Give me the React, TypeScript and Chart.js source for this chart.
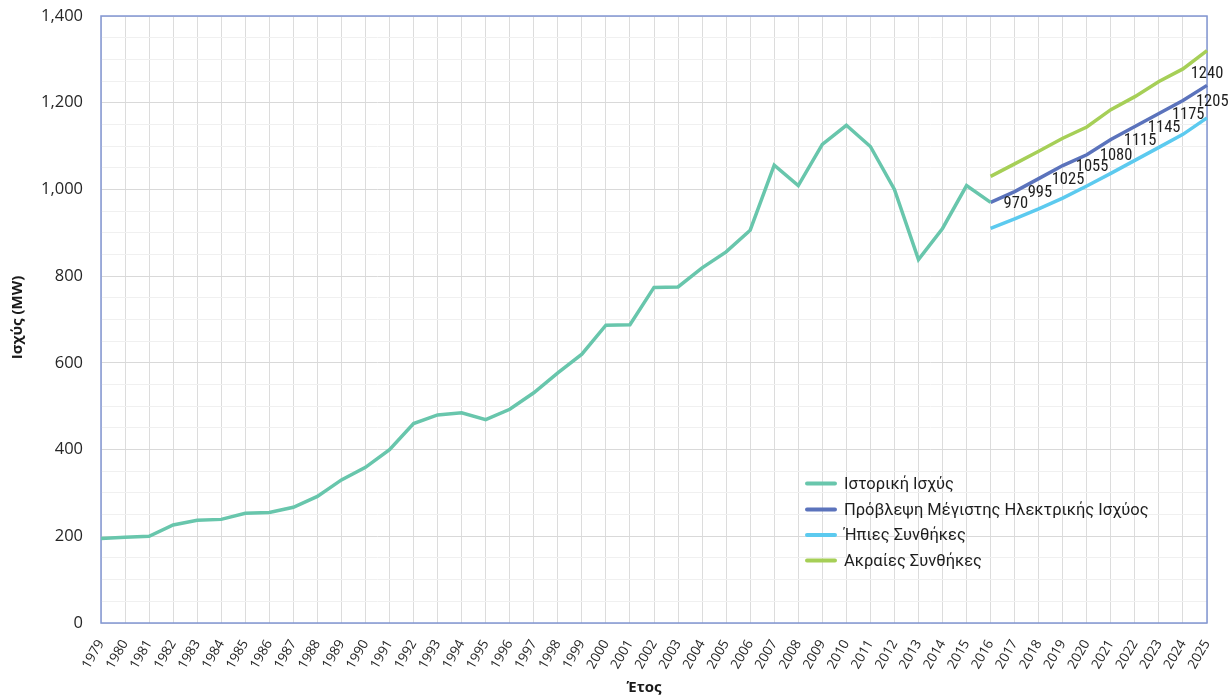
import React, { useEffect, useRef } from 'react';
import { Chart, registerables } from 'chart.js';

Chart.register(...registerables);

const years = [
  '1979', '1980', '1981', '1982', '1983', '1984', '1985', '1986', '1987', '1988',
  '1989', '1990', '1991', '1992', '1993', '1994', '1995', '1996', '1997', '1998',
  '1999', '2000', '2001', '2002', '2003', '2004', '2005', '2006', '2007', '2008',
  '2009', '2010', '2011', '2012', '2013', '2014', '2015', '2016', '2017', '2018',
  '2019', '2020', '2021', '2022', '2023', '2024', '2025',
];

// 1979 – 2016
const historical = [
  195, 198, 200, 226, 237, 239, 253, 255, 267, 292,
  330, 359, 400, 460, 480, 485, 469, 493, 531, 577,
  620, 687, 688, 774, 775, 819, 856, 906, 1056, 1009,
  1104, 1148, 1099, 1000, 838, 910, 1009, 970,
];

// 2016 – 2025
const forecastYears = ['2016', '2017', '2018', '2019', '2020', '2021', '2022', '2023', '2024', '2025'];
const forecast = [970, 995, 1025, 1055, 1080, 1115, 1145, 1175, 1205, 1240];
const mild = [910, 932, 955, 980, 1008, 1037, 1067, 1097, 1127, 1165];
const extreme = [1030, 1059, 1088, 1118, 1144, 1184, 1214, 1249, 1278, 1320];

const seriesNames = [
  'Ιστορική Ισχύς',
  'Πρόβλεψη Μέγιστης Ηλεκτρικής Ισχύος',
  'Ήπιες Συνθήκες',
  'Ακραίες Συνθήκες',
];
const seriesColors = ['#68c6ac', '#5b73bc', '#5ccaef', '#a6cf57'];

const yTickValues = [0, 200, 400, 600, 800, 1000, 1200, 1400];

const yAxisTitle = 'Ισχύς (MW)';
const xAxisTitle = 'Έτος';

const BORDER = '#8297d3';
const TEXT = '#262626';

function alignToYears(values: number[], startYear: string): (number | null)[] {
  const start = years.indexOf(startYear);
  return years.map((_, i) => {
    const k = i - start;
    return k >= 0 && k < values.length ? values[k] : null;
  });
}

const overlayPlugin = {
  id: 'overlay',
  beforeDatasetsDraw(chart: any) {
    const { ctx, chartArea: a } = chart;
    ctx.save();
    ctx.strokeStyle = BORDER;
    ctx.lineWidth = 1.5;
    ctx.strokeRect(a.left, a.top, a.right - a.left, a.bottom - a.top);
    ctx.restore();
  },
  afterDraw(chart: any) {
    const { ctx, chartArea: a } = chart;
    ctx.save();

    // data labels for forecast series
    const meta = chart.getDatasetMeta(1);
    ctx.font = "16.5px 'Liberation Sans Narrow', 'Roboto Condensed', 'DejaVu Sans Condensed', sans-serif";
    ctx.fillStyle = '#1e1e1e';
    const ds = chart.data.datasets[1].data;
    const lastIdx = ds.length - 1;
    meta.data.forEach((pt: any, i: number) => {
      const v = ds[i];
      if (v === null || v === undefined) return;
      const text = String(v);
      if (i === lastIdx) {
        ctx.textAlign = 'center';
        ctx.textBaseline = 'bottom';
        ctx.fillText(text, pt.x, pt.y - 3);
      } else {
        ctx.textAlign = 'left';
        ctx.textBaseline = 'middle';
        ctx.fillText(text, pt.x + 13, pt.y + 1);
      }
    });

    // legend inside plot
    const lx = 806;
    const rows = [483.5, 509.5, 535, 560.5];
    ctx.font = "16.5px Roboto, 'Noto Sans', sans-serif";
    (ctx as any).letterSpacing = '0px';
    ctx.textAlign = 'left';
    ctx.textBaseline = 'middle';
    seriesNames.forEach((name, i) => {
      ctx.strokeStyle = seriesColors[i];
      ctx.lineWidth = 4;
      ctx.lineCap = 'round';
      ctx.beginPath();
      ctx.moveTo(lx + 1, rows[i]);
      ctx.lineTo(lx + 29, rows[i]);
      ctx.stroke();
      ctx.fillStyle = '#1e1e1e';
      ctx.fillText(name, lx + 38, rows[i] + 1);
    });

    // axis titles
    ctx.fillStyle = '#1a1a1a';
    ctx.font = "bold 15px 'Open Sans', sans-serif";
    ctx.textAlign = 'center';
    ctx.textBaseline = 'middle';
    ctx.fillText(xAxisTitle, 644, 688);
    ctx.save();
    ctx.translate(18, (a.top + a.bottom) / 2 - 2);
    ctx.rotate(-Math.PI / 2);
    ctx.fillText(yAxisTitle, 0, 0);
    ctx.restore();

    ctx.restore();
  },
};

export default function App() {
  const canvasRef = useRef<HTMLCanvasElement | null>(null);

  useEffect(() => {
    const canvas = canvasRef.current;
    if (!canvas) return;
    const lineDefaults = {
      borderWidth: 3.5,
      pointRadius: 0,
      pointHoverRadius: 0,
      tension: 0,
    };
    const chart = new Chart(canvas, {
      type: 'line',
      data: {
        labels: years,
        datasets: [
          {
            label: seriesNames[0],
            data: alignToYears(historical, '1979'),
            borderColor: seriesColors[0],
            backgroundColor: seriesColors[0],
            ...lineDefaults,
          },
          {
            label: seriesNames[1],
            data: alignToYears(forecast, forecastYears[0]),
            borderColor: seriesColors[1],
            backgroundColor: seriesColors[1],
            ...lineDefaults,
          },
          {
            label: seriesNames[2],
            data: alignToYears(mild, forecastYears[0]),
            borderColor: seriesColors[2],
            backgroundColor: seriesColors[2],
            ...lineDefaults,
          },
          {
            label: seriesNames[3],
            data: alignToYears(extreme, forecastYears[0]),
            borderColor: seriesColors[3],
            backgroundColor: seriesColors[3],
            ...lineDefaults,
          },
        ],
      },
      options: {
        responsive: false,
        animation: false,
        devicePixelRatio: 1,
        layout: { autoPadding: false, padding: { top: 16, right: 23, left: 0, bottom: 0 } },
        plugins: {
          legend: { display: false },
          tooltip: { enabled: false },
        },
        scales: {
          x: {
            offset: false,
            border: { display: false },
            grid: { color: '#dcdcdc', drawTicks: false, lineWidth: 1 },
            ticks: {
              autoSkip: false,
              minRotation: 60,
              maxRotation: 60,
              padding: 14,
              color: TEXT,
              font: { family: "'Open Sans', sans-serif", size: 13.5 },
            },
            afterFit: (s: any) => {
              s.height = 74;
              s.paddingLeft = 0;
              s.paddingRight = 0;
              s.paddingTop = 0;
              s.paddingBottom = 0;
            },
          },
          y: {
            min: 0,
            max: 1400,
            border: { display: false },
            grid: {
              drawTicks: false,
              lineWidth: 1,
              color: (c: any) => (yTickValues.includes(c.tick?.value) ? '#d9d9d9' : '#f0f0f0'),
            },
            ticks: {
              stepSize: 50,
              autoSkip: false,
              padding: 18,
              color: TEXT,
              font: { family: "'Open Sans', sans-serif", size: 16.5 },
              callback: (v: any) =>
                yTickValues.includes(Number(v)) ? Number(v).toLocaleString('en-US') : '',
            },
            afterFit: (s: any) => {
              s.width = 101;
              s.paddingTop = 0;
              s.paddingBottom = 0;
              s.paddingLeft = 0;
              s.paddingRight = 0;
            },
          },
        },
      },
      plugins: [overlayPlugin],
    });
    return () => chart.destroy();
  }, []);

  return (
    <div style={{ position: 'absolute', left: 0, top: 0, width: 1230, height: 697, background: '#fff' }}>
      <canvas ref={canvasRef} width={1230} height={697} />
    </div>
  );
}
